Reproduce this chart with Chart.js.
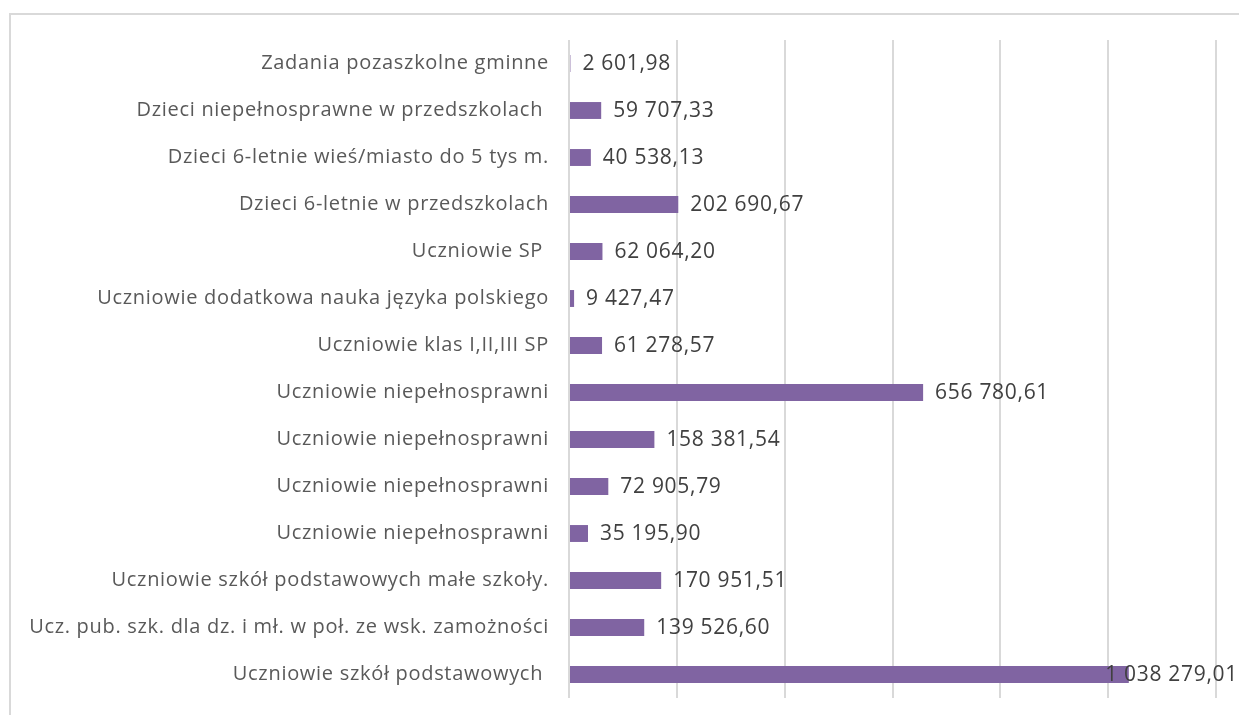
<!DOCTYPE html>
<html>
<head>
<meta charset="utf-8">
<script src="https://cdn.jsdelivr.net/npm/chart.js@4"></script>
<style>
  html, body { margin: 0; padding: 0; background: #fff; overflow: hidden; }
  #frame {
    position: absolute; left: 9px; top: 13px;
    width: 1400px; height: 900px;
    border: 2px solid #d9d9d9;
    box-sizing: border-box;
  }
  #wrap { position: absolute; left: 0; top: 0; width: 1239px; height: 715px; }
</style>
</head>
<body>
<div id="frame"></div>
<div id="wrap"><canvas id="chart"></canvas></div>
<script>
// categories, top to bottom
const categories = [
    'Zadania pozaszkolne gminne',
    'Dzieci niepełnosprawne w przedszkolach ',
    'Dzieci 6-letnie wieś/miasto do 5 tys m.',
    'Dzieci 6-letnie w przedszkolach',
    'Uczniowie SP ',
    'Uczniowie dodatkowa nauka języka polskiego',
    'Uczniowie klas I,II,III SP',
    'Uczniowie niepełnosprawni',
    'Uczniowie niepełnosprawni',
    'Uczniowie niepełnosprawni',
    'Uczniowie niepełnosprawni',
    'Uczniowie szkół podstawowych małe szkoły.',
    'Ucz. pub. szk. dla dz. i mł. w poł. ze wsk. zamożności',
    'Uczniowie szkół podstawowych '
];
const amounts = [
    2601.98, 59707.33, 40538.13, 202690.67, 62064.20, 9427.47, 61278.57,
    656780.61, 158381.54, 72905.79, 35195.90, 170951.51, 139526.60, 1038279.01
];
const axisMax = 1200000;
const axisStep = 200000;

function formatPl(v) {
    const parts = v.toFixed(2).split('.');
    const int = parts[0].replace(/\B(?=(\d{3})+(?!\d))/g, ' ');
    return int + ',' + parts[1];
}

// a bit of tracking so Open Sans gets close to the original's wide text
const spacing = {
    id: 'spacing',
    beforeDraw(chart) { chart.ctx.letterSpacing = '0.7px'; }
};

// value labels next to the bar ends
const valueLabels = {
    id: 'valueLabels',
    afterDatasetsDraw(chart) {
        const ctx = chart.ctx;
        const meta = chart.getDatasetMeta(0);
        ctx.save();
        ctx.letterSpacing = '0.7px';
        ctx.font = '21px "Open Sans"';
        ctx.fillStyle = '#404040';
        ctx.textBaseline = 'middle';
        ctx.textAlign = 'left';
        meta.data.forEach((bar, i) => {
            const txt = formatPl(amounts[i]);
            const w = ctx.measureText(txt).width;
            let x = bar.x + 12;
            if (x + w > chart.width - 1) x = chart.width - 1 - w;
            ctx.fillText(txt, x, bar.y + 1);
        });
        ctx.restore();
    }
};

const ctx = document.getElementById('chart').getContext('2d');
new Chart(ctx, {
    type: 'bar',
    data: {
        labels: categories,
        datasets: [{
            data: amounts,
            backgroundColor: '#8064a2',
            borderWidth: 0,
            barPercentage: 0.36,
            categoryPercentage: 1
        }]
    },
    options: {
        indexAxis: 'y',
        responsive: true,
        maintainAspectRatio: false,
        animation: false,
        layout: { padding: { left: 0, right: 23, top: 40, bottom: 17 } },
        plugins: { legend: { display: false }, tooltip: { enabled: false } },
        scales: {
            x: {
                min: 0,
                max: axisMax,
                afterFit(scale) { scale.height = 0; },
                ticks: { display: false, stepSize: axisStep },
                grid: { color: '#d9d9d9', lineWidth: 2, drawTicks: false },
                border: { display: false }
            },
            y: {
                afterFit(scale) {
                    scale.width = 569;
                    scale.paddingTop = 0;
                    scale.paddingBottom = 0;
                },
                ticks: {
                    color: '#595959',
                    font: { family: '"Open Sans"', size: 20 },
                    padding: 20,
                    autoSkip: false
                },
                grid: { display: false, drawTicks: false },
                border: { display: false }
            }
        }
    },
    plugins: [spacing, valueLabels]
});
</script>
</body>
</html>
